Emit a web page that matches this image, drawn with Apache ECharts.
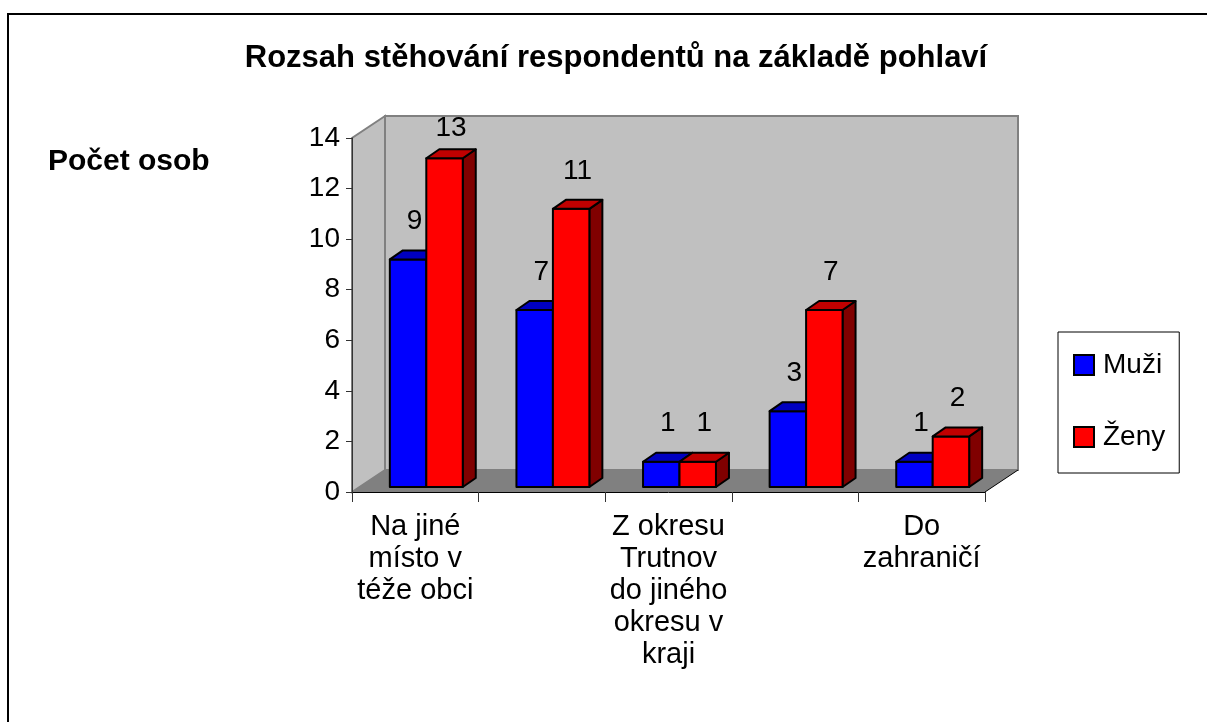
<!DOCTYPE html>
<html>
<head>
<meta charset="utf-8">
<style>
  html, body { margin: 0; padding: 0; background: #fff; }
  #main { width: 1207px; height: 722px; }
</style>
<script src="https://cdn.jsdelivr.net/npm/echarts@6/dist/echarts.min.js"></script>
</head>
<body>
<div id="main"></div>
<script>
// data
var categories = [
  'Na jiné\nmísto v\ntéže obci',
  'Do jiné\nobce v\nokrese',
  'Z okresu\nTrutnov\ndo jiného\nokresu v\nkraji',
  'Do jiného\nkraje',
  'Do\nzahraničí'
];
var muzi = [9, 7, 1, 3, 1];
var zeny = [13, 11, 1, 7, 2];
var yTicks = [0, 14, 2]; // min, max, interval

var FONT = '"Liberation Sans", Arial, sans-serif';
// 3D look: wall depth and bar offset/depth
var WX = 33, WY = -22;
var FX = 11, FY = -5;
var DX = 13, DY = -9;

function walls(params, api) {
  var cs = params.coordSys;
  var x = cs.x, y = cs.y, w = cs.width, h = cs.height;
  var b = y + h;
  return {
    type: 'group',
    children: [
      { type: 'polygon', shape: { points: [[x, b], [x, y], [x + WX, y + WY], [x + WX, b + WY]] },
        style: { fill: '#c0c0c0', stroke: '#808080', lineWidth: 2 } },
      { type: 'rect', shape: { x: x + WX, y: y + WY, width: w, height: h },
        style: { fill: '#c0c0c0', stroke: '#808080', lineWidth: 2 } },
      { type: 'polygon', shape: { points: [[x, b], [x + w, b], [x + w + WX, b + WY], [x + WX, b + WY]] },
        style: { fill: '#808080', stroke: null } },
      { type: 'line', shape: { x1: x + w, y1: b, x2: x + w + WX, y2: b + WY },
        style: { stroke: '#000', lineWidth: 1 } }
    ]
  };
}

function barRender(side, front, top, sideColor) {
  return function (params, api) {
    var cat = api.value(0), val = api.value(1);
    var c = api.coord([cat, val]);
    var base = api.coord([cat, 0]);
    var bw = api.size([1, 0])[0] * 0.288;
    var x0 = (side === 0 ? c[0] - bw : c[0]) + FX;
    var x1 = x0 + bw;
    var yt = c[1] + FY, yb = base[1] + FY;
    var ln = { stroke: '#000', lineWidth: 2, lineJoin: 'round' };
    var labelY = Math.max(yt - 24, params.coordSys.y + 4);
    return {
      type: 'group',
      children: [
        { type: 'polygon', shape: { points: [[x1, yt], [x1 + DX, yt + DY], [x1 + DX, yb + DY], [x1, yb]] },
          style: Object.assign({ fill: sideColor }, ln) },
        { type: 'rect', shape: { x: x0, y: yt, width: bw, height: yb - yt },
          style: Object.assign({ fill: front }, ln) },
        { type: 'polygon', shape: { points: [[x0, yt], [x1, yt], [x1 + DX, yt + DY], [x0 + DX, yt + DY]] },
          style: Object.assign({ fill: top }, ln) },
        { type: 'text', x: (x0 + x1) / 2 + DX / 2, y: labelY,
          style: { text: String(val), fill: '#000', font: '28px ' + FONT, align: 'center', verticalAlign: 'bottom' } }
      ]
    };
  };
}

var chart = echarts.init(document.getElementById('main'));
chart.setOption({
  animation: false,
  backgroundColor: '#fff',
  title: [
    { text: 'Rozsah stěhování respondentů na základě pohlaví', left: 616, top: 43, textAlign: 'center', padding: 0,
      textStyle: { fontFamily: FONT, fontSize: 31, fontWeight: 'bold', color: '#000' } },
    { text: 'Počet osob', left: 48, top: 147, padding: 0,
      textStyle: { fontFamily: FONT, fontSize: 30, fontWeight: 'bold', color: '#000' } }
  ],
  graphic: [
    { type: 'rect', shape: { x: 8, y: 14, width: 1230, height: 740 }, style: { fill: null, stroke: '#000', lineWidth: 2 }, z: 100 }
  ],
  legend: {
    orient: 'vertical',
    left: 1058, top: 332,
    padding: [19, 14, 22, 15],
    itemGap: 44,
    itemWidth: 20, itemHeight: 20,
    icon: 'rect',
    borderColor: '#000', borderWidth: 1,
    textStyle: { fontFamily: FONT, fontSize: 28, lineHeight: 28, color: '#000', padding: [0, 0, 0, 4] },
    itemStyle: { borderColor: '#000', borderWidth: 2 },
    data: [
      { name: 'Muži', itemStyle: { color: '#0000ff' } },
      { name: 'Ženy', itemStyle: { color: '#ff0000' } }
    ]
  },
  grid: { left: 352, top: 138, right: 222, bottom: 230 },
  xAxis: {
    type: 'category', data: categories, z: 5,
    axisLine: { lineStyle: { color: '#000', width: 1 } },
    axisTick: { show: true, length: 10, interval: 0, lineStyle: { color: '#333' } },
    axisLabel: { interval: 1, fontFamily: FONT, fontSize: 29, lineHeight: 32, margin: 19, color: '#000' }
  },
  yAxis: {
    type: 'value', min: yTicks[0], max: yTicks[1], interval: yTicks[2], z: 5,
    axisLine: { show: true, lineStyle: { color: '#333', width: 1 } },
    axisTick: { show: true, length: 6, lineStyle: { color: '#333' } },
    axisLabel: { fontFamily: FONT, fontSize: 28, margin: 12, color: '#000' },
    splitLine: { show: false }
  },
  series: [
    { type: 'custom', name: 'walls', silent: true, renderItem: walls, data: [[0, 0]], z: 1 },
    { type: 'custom', name: 'Muži', renderItem: barRender(0, '#0000ff', '#0000c0', '#000080'),
      itemStyle: { color: '#0000ff' }, data: muzi.map(function (v, i) { return [i, v]; }), z: 2 },
    { type: 'custom', name: 'Ženy', renderItem: barRender(1, '#ff0000', '#c00000', '#800000'),
      itemStyle: { color: '#ff0000' }, data: zeny.map(function (v, i) { return [i, v]; }), z: 3 }
  ]
});
</script>
</body>
</html>
